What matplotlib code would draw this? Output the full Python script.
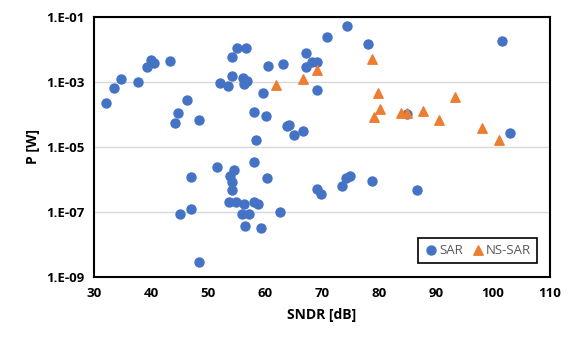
import numpy as np
import matplotlib.pyplot as plt
from matplotlib.ticker import FixedLocator

# SAR 資料
sar_sndr = [32.1, 33.5, 34.7, 37.8, 39.3, 40.0, 40.5, 43.3, 44.7, 44.3,
            46.4, 48.4, 52.1, 53.5, 54.3, 54.3, 55.1, 56.6, 56.1, 56.8,
            56.4, 59.7, 60.6, 63.1, 58.1, 60.2, 58.4, 63.9, 51.6, 54.5,
            58.0, 47.0, 53.9, 54.2, 54.3, 60.4, 47.0, 45.1, 53.7, 55.0,
            56.3, 58.0, 58.7, 55.9, 57.2, 56.5, 59.3, 62.6, 48.4, 67.2,
            67.2, 68.2, 69.2, 70.9, 74.4, 78.1, 101.6, 69.1, 64.2, 65.1,
            66.7, 84.9, 103.0, 69.2, 69.8, 73.6, 74.2, 75.0, 78.8, 86.7]
sar_p = [2.3e-4, 6.6e-4, 1.2e-3, 1.0e-3, 2.9e-3, 4.9e-3, 3.9e-3, 4.4e-3, 1.15e-4, 5.4e-5,
         2.8e-4, 6.9e-5, 9.1e-4, 7.6e-4, 1.5e-3, 5.7e-3, 1.15e-2, 1.15e-2, 1.3e-3, 1.1e-3,
         8.5e-4, 4.5e-4, 3.1e-3, 3.5e-3, 1.2e-4, 9.3e-5, 1.7e-5, 4.5e-5, 2.5e-6, 2.0e-6,
         3.5e-6, 1.2e-6, 1.3e-6, 8.1e-7, 4.9e-7, 1.1e-6, 1.2e-7, 8.9e-8, 2.0e-7, 2.1e-7,
         1.8e-7, 2.0e-7, 1.8e-7, 8.7e-8, 8.9e-8, 3.8e-8, 3.2e-8, 1.0e-7, 2.8e-9, 7.9e-3,
         2.9e-3, 4.1e-3, 4.1e-3, 2.4e-2, 5.2e-2, 1.5e-2, 1.8e-2, 5.6e-4, 4.6e-5, 2.4e-5,
         3.0e-5, 1.05e-4, 2.7e-5, 5.1e-7, 3.5e-7, 6.3e-7, 1.1e-6, 1.3e-6, 8.9e-7, 4.7e-7]

# NS-SAR 資料
ns_sndr = [61.9, 66.6, 69.2, 78.8, 79.8, 80.1, 79.1, 83.8, 84.9, 87.7,
           90.6, 93.4, 98.0, 101.0]
ns_p = [8.0e-4, 1.25e-3, 2.4e-3, 5.0e-3, 4.5e-4, 1.45e-4, 8.2e-5, 1.1e-4, 1.1e-4, 1.25e-4,
        7.0e-5, 3.4e-4, 3.8e-5, 1.6e-5]

y_ticks = [1e-9, 1e-7, 1e-5, 1e-3, 1e-1]
y_labels = ['1.E-09', '1.E-07', '1.E-05', '1.E-03', '1.E-01']
x_ticks = [30, 40, 50, 60, 70, 80, 90, 100, 110]

plt.rcParams['font.family'] = ['Open Sans', 'DejaVu Sans']

fig = plt.figure(figsize=(5.72, 3.44), dpi=100)
ax = fig.add_axes([0.1643, 0.1948, 0.7972, 0.7558])

ax.scatter(sar_sndr, sar_p, s=42, color='#4472C4', marker='o', label='SAR', zorder=3)
ax.scatter(ns_sndr, ns_p, s=46, color='#ED7D31', marker='^', label='NS-SAR', zorder=3)

ax.set_yscale('log')
ax.set_xlim(30, 110)
ax.set_ylim(1e-9, 1e-1)
ax.yaxis.set_major_locator(FixedLocator(y_ticks))
ax.yaxis.set_minor_locator(FixedLocator([]))
ax.set_yticks(y_ticks)
ax.set_yticklabels(y_labels)
ax.set_xticks(x_ticks)
ax.tick_params(length=0, labelsize=9.5, pad=7)
for lab in ax.get_xticklabels() + ax.get_yticklabels():
    lab.set_fontweight('bold')

ax.grid(axis='y', color='#D9D9D9', linewidth=1, zorder=0)
ax.set_axisbelow(True)
for sp in ax.spines.values():
    sp.set_linewidth(1.5)
    sp.set_color('black')

ax.set_xlabel('SNDR [dB]', fontsize=10, fontweight='bold', labelpad=6)
ax.set_ylabel('P [W]', fontsize=10, fontweight='bold', labelpad=4)

leg = ax.legend(loc='lower right', ncol=2, frameon=True, fancybox=False,
                edgecolor='black', framealpha=1, fontsize=9.5, handletextpad=0.0,
                handlelength=1.2, columnspacing=0.5, borderpad=0.45,
                bbox_to_anchor=(0.985, 0.03))
leg.get_frame().set_linewidth(1.2)
for t in leg.get_texts():
    t.set_color('#595959')

fig.savefig('out.png', dpi=100)
